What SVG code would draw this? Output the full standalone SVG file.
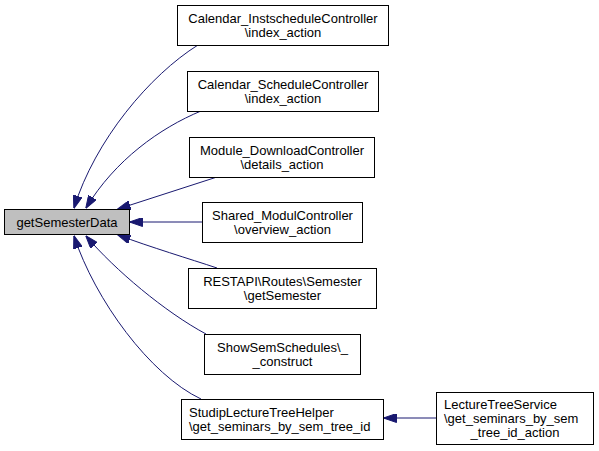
<svg xmlns="http://www.w3.org/2000/svg" width="599" height="451" viewBox="0 0 599 451">
<defs>
<marker id="arr" markerUnits="userSpaceOnUse" viewBox="0 0 13 9" refX="12.5" refY="4.5" markerWidth="13" markerHeight="9" orient="auto">
<path d="M0,0 L13,4.5 L0,9 z" fill="#191970" stroke="#191970" stroke-width="1"/>
</marker>
</defs>
<style>
.n rect{fill:#ffffff;stroke:#000000;stroke-width:1}
.n.cur rect{fill:#bfbfbf}
.n text{font-family:"Liberation Sans",Arial,sans-serif;font-size:13px;fill:#000000;text-anchor:middle}
.n text.l{text-anchor:start}
.e path{fill:none;stroke:#191970;stroke-width:1;marker-end:url(#arr)}
</style>
<rect x="0" y="0" width="599" height="451" fill="#ffffff"/>
<g class="e" id="edges">
<path d="M198,45 C150,75 95,140 74,208"/>
<path d="M201,111 C160,128 115,160 86,208"/>
<path d="M217,177 L118,209"/>
<path d="M202,222 L130,222"/>
<path d="M217,268 C190,259 150,247 118,235"/>
<path d="M206,334 C165,312 115,270 86,236"/>
<path d="M201,399 C150,375 95,300 74,236"/>
<path d="M436,418 L384,418"/>
</g>
<g class="n cur" id="getSemesterData">
<rect x="4.5" y="209.5" width="125" height="25"/>
<text x="67" y="226.5">getSemesterData</text>
</g>
<g class="n" id="n1">
<rect x="177.5" y="5.5" width="211" height="40"/>
<text x="283" y="23">Calendar_InstscheduleController</text>
<text x="283" y="37">\index_action</text>
</g>
<g class="n" id="n2">
<rect x="187.5" y="71.5" width="191" height="40"/>
<text x="283" y="89">Calendar_ScheduleController</text>
<text x="283" y="103">\index_action</text>
</g>
<g class="n" id="n3">
<rect x="189.5" y="137.5" width="185" height="40"/>
<text x="282" y="155">Module_DownloadController</text>
<text x="282" y="169">\details_action</text>
</g>
<g class="n" id="n4">
<rect x="202.5" y="202.5" width="160" height="40"/>
<text x="282.5" y="220">Shared_ModulController</text>
<text x="282.5" y="234">\overview_action</text>
</g>
<g class="n" id="n5">
<rect x="188.5" y="268.5" width="188" height="40"/>
<text x="282.5" y="286">RESTAPI\Routes\Semester</text>
<text x="282.5" y="300">\getSemester</text>
</g>
<g class="n" id="n6">
<rect x="204.5" y="334.5" width="156" height="40"/>
<text x="282.5" y="352">ShowSemSchedules\_</text>
<text x="282.5" y="366">_construct</text>
</g>
<g class="n" id="n7">
<rect x="181.5" y="399.5" width="202" height="40"/>
<text class="l" x="189" y="417">StudipLectureTreeHelper</text>
<text class="l" x="189" y="431">\get_seminars_by_sem_tree_id</text>
</g>
<g class="n" id="n8">
<rect x="436.5" y="392.5" width="157" height="52"/>
<text class="l" x="444" y="408.5">LectureTreeService</text>
<text class="l" x="444" y="422.5">\get_seminars_by_sem</text>
<text x="515" y="436.5">_tree_id_action</text>
</g>
</svg>
